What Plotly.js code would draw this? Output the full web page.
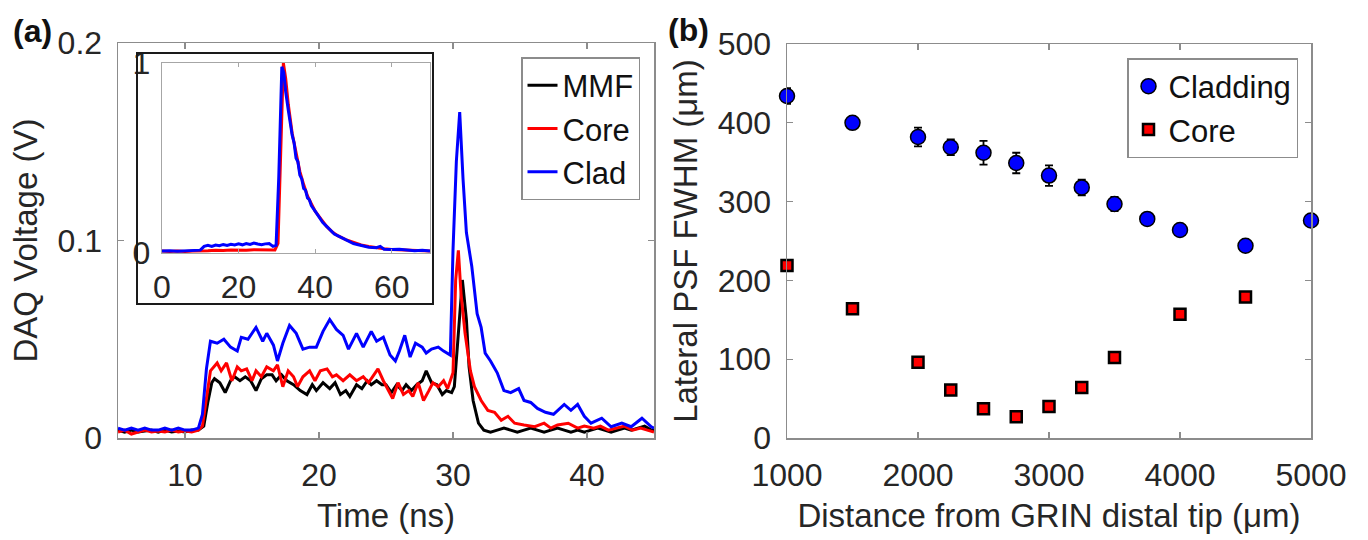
<!DOCTYPE html>
<html>
<head>
<meta charset="utf-8">
<script src="https://cdn.plot.ly/plotly-3.0.1.min.js"></script>
<style>html,body{margin:0;padding:0;background:#fff;}#chart{width:1368px;height:540px;}</style>
</head>
<body>
<div id="chart"></div>
<script>
// ---------- Panel (a): DAQ traces (time in ns, voltage in V) ----------
const mmfTime = [5.0,5.5,6.0,6.5,7.0,7.5,8.0,8.5,9.0,9.5,10.0,10.5,11.0,11.4,11.7,12.0,12.2,12.6,13.0,13.4,13.7,14.1,14.5,14.9,15.3,15.7,16.1,16.5,16.8,17.2,17.6,18.1,18.6,19.1,19.5,19.8,20.3,20.8,21.2,21.6,22.0,22.3,22.8,23.2,23.6,23.9,24.3,24.7,25.0,25.4,25.8,26.2,26.5,26.9,27.3,27.7,28.0,28.4,28.8,29.2,29.5,29.9,30.1,30.5,30.7,31.0,31.2,31.5,31.9,32.3,32.8,33.3,33.8,34.3,34.8,35.3,35.8,36.3,36.8,37.3,37.8,38.3,38.8,39.3,39.8,40.3,40.8,41.3,41.8,42.3,42.8,43.3,43.8,44.3,44.8,45.0];
const mmfVolt = [0.004,0.003,0.004,0.003,0.0035,0.004,0.003,0.004,0.003,0.0035,0.003,0.004,0.004,0.006,0.018,0.028,0.030,0.028,0.023,0.029,0.031,0.029,0.031,0.029,0.024,0.030,0.032,0.032,0.029,0.032,0.029,0.027,0.024,0.022,0.027,0.024,0.028,0.025,0.028,0.022,0.024,0.021,0.027,0.025,0.029,0.027,0.029,0.027,0.027,0.023,0.027,0.024,0.027,0.024,0.027,0.029,0.034,0.028,0.027,0.022,0.024,0.023,0.026,0.063,0.080,0.060,0.036,0.019,0.0075,0.004,0.003,0.004,0.005,0.004,0.003,0.004,0.005,0.004,0.003,0.004,0.005,0.004,0.003,0.004,0.003,0.004,0.005,0.004,0.003,0.004,0.005,0.004,0.005,0.006,0.004,0.004];

const coreTime = [5.0,5.5,6.0,6.5,7.0,7.5,8.0,8.5,9.0,9.5,10.0,10.5,11.0,11.3,11.6,11.9,12.4,12.7,13.1,13.5,13.9,14.2,14.6,15.0,15.3,15.7,16.1,16.6,16.9,17.3,17.7,18.1,18.4,18.8,19.3,19.7,20.1,20.6,21.0,21.3,21.8,22.3,22.8,23.3,23.7,24.0,24.4,24.8,25.2,25.5,25.9,26.3,26.7,27.0,27.4,27.8,28.2,28.5,28.9,29.3,29.6,30.0,30.2,30.4,30.6,30.9,31.3,31.6,32.1,32.6,33.1,33.6,34.1,34.6,35.3,36.1,36.8,37.3,37.8,38.6,39.3,39.8,40.5,41.0,41.6,42.2,42.8,43.4,44.0,44.5,45.0];
const coreVolt = [0.003,0.004,0.002,0.003,0.004,0.003,0.0035,0.003,0.004,0.003,0.0035,0.003,0.004,0.006,0.020,0.034,0.038,0.034,0.038,0.029,0.036,0.034,0.035,0.029,0.034,0.031,0.036,0.034,0.037,0.026,0.034,0.031,0.026,0.031,0.034,0.029,0.034,0.035,0.031,0.032,0.029,0.032,0.029,0.031,0.028,0.031,0.035,0.029,0.024,0.020,0.028,0.022,0.024,0.021,0.028,0.019,0.024,0.028,0.026,0.029,0.025,0.033,0.080,0.095,0.073,0.053,0.034,0.026,0.019,0.014,0.013,0.009,0.011,0.0075,0.0066,0.0057,0.0075,0.005,0.0066,0.0075,0.005,0.006,0.005,0.006,0.004,0.005,0.006,0.004,0.005,0.004,0.003];

const cladTime = [5.0,5.5,6.0,6.5,7.0,7.5,8.0,8.5,9.0,9.5,10.0,10.5,11.0,11.3,11.6,11.9,12.4,12.9,13.4,13.9,14.2,14.7,15.3,15.8,16.1,16.6,16.9,17.3,17.8,18.3,18.8,19.3,19.8,20.3,20.8,21.3,21.8,22.2,22.8,23.3,23.9,24.3,24.8,25.3,25.7,26.0,26.4,26.8,27.2,27.7,28.0,28.4,28.9,29.3,29.8,30.0,30.25,30.5,30.75,31.0,31.4,31.8,32.1,32.4,32.8,33.3,33.8,34.3,34.9,35.3,35.8,36.3,36.9,37.5,38.3,38.8,39.3,39.8,40.3,41.1,41.8,42.6,43.3,44.1,44.8,45.0];
const cladVolt = [0.005,0.004,0.005,0.004,0.005,0.004,0.004,0.005,0.004,0.005,0.004,0.004,0.005,0.012,0.035,0.049,0.048,0.050,0.046,0.044,0.051,0.050,0.056,0.049,0.053,0.047,0.039,0.048,0.057,0.053,0.045,0.046,0.046,0.054,0.060,0.055,0.052,0.045,0.053,0.046,0.054,0.049,0.051,0.042,0.039,0.044,0.052,0.041,0.048,0.046,0.043,0.045,0.046,0.044,0.042,0.095,0.140,0.165,0.131,0.104,0.087,0.063,0.056,0.043,0.039,0.033,0.024,0.023,0.025,0.019,0.018,0.015,0.013,0.012,0.017,0.014,0.017,0.011,0.0075,0.010,0.0057,0.0075,0.0057,0.010,0.0057,0.005];

// ---------- Inset: normalised traces ----------
const insetCoreTime = [0,2,4,6,8,10,12,14,16,18,20,22,24,26,28,29.5,30.3,31.0,31.7,32.3,33.0,34,35,36,37,38,39,40,41.5,43,44.5,46,48,50,52,54,56,58,60,62,64,66,68,70];
const insetCoreNorm = [0.010,0.008,0.010,0.008,0.010,0.010,0.012,0.014,0.013,0.016,0.015,0.014,0.017,0.016,0.015,0.016,0.05,0.55,1.0,0.92,0.78,0.63,0.52,0.43,0.36,0.30,0.26,0.22,0.18,0.14,0.11,0.09,0.07,0.055,0.042,0.034,0.027,0.022,0.018,0.016,0.013,0.012,0.010,0.010];
const insetCladTime = [0,2,4,6,8,10,11,12,13,14,15,16,17,18,19,20,21,22,23,24,25,26,27,28,29,29.8,30.5,31.3,31.8,32.3,33,33.5,34,34.5,35,35.5,36,36.5,37,37.5,38,38.5,39,40,41,42,43,44,45,46,47,48,49,50,51,52,54,56,57,58,60,62,64,66,68,70];
const insetCladNorm = [0.010,0.012,0.009,0.011,0.010,0.015,0.035,0.040,0.035,0.042,0.038,0.045,0.040,0.046,0.042,0.048,0.043,0.050,0.045,0.052,0.047,0.044,0.048,0.050,0.035,0.040,0.40,0.98,0.95,0.85,0.75,0.68,0.62,0.58,0.50,0.48,0.41,0.39,0.34,0.33,0.29,0.28,0.25,0.22,0.19,0.16,0.14,0.12,0.10,0.09,0.08,0.07,0.06,0.05,0.045,0.040,0.030,0.028,0.035,0.020,0.018,0.020,0.015,0.012,0.014,0.010];

// ---------- Panel (b): lateral PSF FWHM ----------
const cladDist = [1000,1500,2000,2250,2500,2750,3000,3250,3500,3750,4000,4500,5000];
const cladFwhm = [434,400,382,369,362,349,333,318,297,278,264,244,276];
const cladErr  = [10,6,12,10,15,13,13,10,9,7,7,5,7];
const coreDist = [1000,1500,2000,2250,2500,2750,3000,3250,3500,4000,4500];
const coreFwhm = [219,164,96,61,37,27,40,64,102,157,179];
const coreErr  = [3,3,3,3,4,3,3,3,3,3,3];

const W = 1368, H = 540;
const px = v => v / W;
const py = v => 1 - v / H;

const FONT = '"Liberation Sans", Arial, sans-serif';
const TXT = '#262626';
const AX = '#8c8c8c';

const lineW = 3;
const traces = [
  {x: mmfTime, y: mmfVolt, name: 'MMF', type: 'scatter', mode: 'lines', line: {color: '#000000', width: lineW}, xaxis: 'x', yaxis: 'y', legend: 'legend'},
  {x: coreTime, y: coreVolt, name: 'Core', type: 'scatter', mode: 'lines', line: {color: '#ff0000', width: lineW}, xaxis: 'x', yaxis: 'y', legend: 'legend'},
  {x: cladTime, y: cladVolt, name: 'Clad', type: 'scatter', mode: 'lines', line: {color: '#0000ff', width: lineW}, xaxis: 'x', yaxis: 'y', legend: 'legend'},
  {x: insetCoreTime, y: insetCoreNorm, name: 'Core (norm.)', type: 'scatter', mode: 'lines', line: {color: '#ff0000', width: 3}, xaxis: 'x2', yaxis: 'y2', showlegend: false},
  {x: insetCladTime, y: insetCladNorm, name: 'Clad (norm.)', type: 'scatter', mode: 'lines', line: {color: '#0000ff', width: 3}, xaxis: 'x2', yaxis: 'y2', showlegend: false},
  {x: cladDist, y: cladFwhm, name: 'Cladding', type: 'scatter', mode: 'markers',
   marker: {symbol: 'circle', size: 15, color: '#0000ff', line: {color: '#000000', width: 1.5}},
   error_y: {type: 'data', array: cladErr, visible: true, color: '#000000', thickness: 1.8, width: 4},
   xaxis: 'x3', yaxis: 'y3', legend: 'legend2', cliponaxis: false},
  {x: coreDist, y: coreFwhm, name: 'Core', type: 'scatter', mode: 'markers',
   marker: {symbol: 'square', size: 11, color: '#ff0000', line: {color: '#000000', width: 2.5}},
   error_y: {type: 'data', array: coreErr, visible: true, color: '#000000', thickness: 1.8, width: 4},
   xaxis: 'x3', yaxis: 'y3', legend: 'legend2', cliponaxis: false}
];

const tickFont = {family: FONT, size: 32, color: TXT};
const titleFont = {family: FONT, size: 33, color: TXT};
const baseAxis = {
  showline: true, linecolor: AX, linewidth: 1.5, mirror: 'ticks',
  ticks: 'inside', ticklen: 6, tickwidth: 1.2, tickcolor: AX,
  showgrid: false, zeroline: false, tickfont: tickFont, fixedrange: true
};

const layout = {
  width: W, height: H,
  margin: {l: 0, r: 0, t: 0, b: 0},
  paper_bgcolor: '#ffffff', plot_bgcolor: '#ffffff',
  font: {family: FONT, color: TXT},
  showlegend: true,
  xaxis: Object.assign({}, baseAxis, {
    domain: [px(118), px(654)], anchor: 'y', range: [5, 45],
    tickvals: [10, 20, 30, 40], ticklabelstandoff: 8,
    title: {text: 'Time (ns)', font: titleFont, standoff: 12}
  }),
  yaxis: Object.assign({}, baseAxis, {
    domain: [py(438), py(43)], anchor: 'x', range: [0, 0.2],
    tickvals: [0, 0.1, 0.2], ticktext: ['0', '0.1', '0.2'], ticklabelstandoff: 8,
    title: {text: 'DAQ Voltage (V)', font: titleFont, standoff: 10}
  }),
  xaxis2: Object.assign({}, baseAxis, {
    domain: [px(162), px(430)], anchor: 'y2', range: [0, 70],
    tickvals: [0, 20, 40, 60], ticklen: 4, linecolor: '#a6a6a6', tickcolor: '#a6a6a6', linewidth: 1.2,
    ticklabelstandoff: 5
  }),
  yaxis2: Object.assign({}, baseAxis, {
    domain: [py(253), py(63)], anchor: 'x2', range: [0, 1],
    tickvals: [0, 1], ticklen: 4, linecolor: '#a6a6a6', tickcolor: '#a6a6a6', linewidth: 1.2,
    ticklabelstandoff: 4
  }),
  xaxis3: Object.assign({}, baseAxis, {
    domain: [px(787), px(1311)], anchor: 'y3', range: [1000, 5000],
    tickvals: [1000, 2000, 3000, 4000, 5000], ticklabelstandoff: 8,
    title: {text: 'Distance from GRIN distal tip (\u03bcm)', font: titleFont, standoff: 12}
  }),
  yaxis3: Object.assign({}, baseAxis, {
    domain: [py(438), py(44)], anchor: 'x3', range: [0, 500],
    tickvals: [0, 100, 200, 300, 400, 500], ticklabelstandoff: 8,
    title: {text: 'Lateral PSF FWHM (\u03bcm)', font: titleFont, standoff: 10}
  }),
  legend: {
    x: px(640), xanchor: 'right', y: py(57), yanchor: 'top',
    bgcolor: '#ffffff', bordercolor: AX, borderwidth: 1.5,
    font: {family: FONT, size: 31, color: '#111'}, tracegroupgap: 0
  },
  legend2: {
    x: px(1298), xanchor: 'right', y: py(58), yanchor: 'top',
    bgcolor: '#ffffff', bordercolor: AX, borderwidth: 1.5,
    font: {family: FONT, size: 31, color: '#111'}, tracegroupgap: 0
  },
  shapes: [
    {type: 'rect', xref: 'paper', yref: 'paper', x0: px(137), x1: px(433), y0: py(304), y1: py(53),
     line: {color: '#1a1a1a', width: 2}, fillcolor: 'rgba(0,0,0,0)', layer: 'above'}
  ],
  annotations: [
    {text: '<b>(a)</b>', xref: 'paper', yref: 'paper', x: px(32), y: py(31), xanchor: 'center', yanchor: 'middle',
     showarrow: false, font: {family: FONT, size: 32, color: '#111'}},
    {text: '<b>(b)</b>', xref: 'paper', yref: 'paper', x: px(688), y: py(30), xanchor: 'center', yanchor: 'middle',
     showarrow: false, font: {family: FONT, size: 32, color: '#111'}}
  ]
};

Plotly.newPlot('chart', traces, layout, {displayModeBar: false, staticPlot: true});
</script>
</body>
</html>
